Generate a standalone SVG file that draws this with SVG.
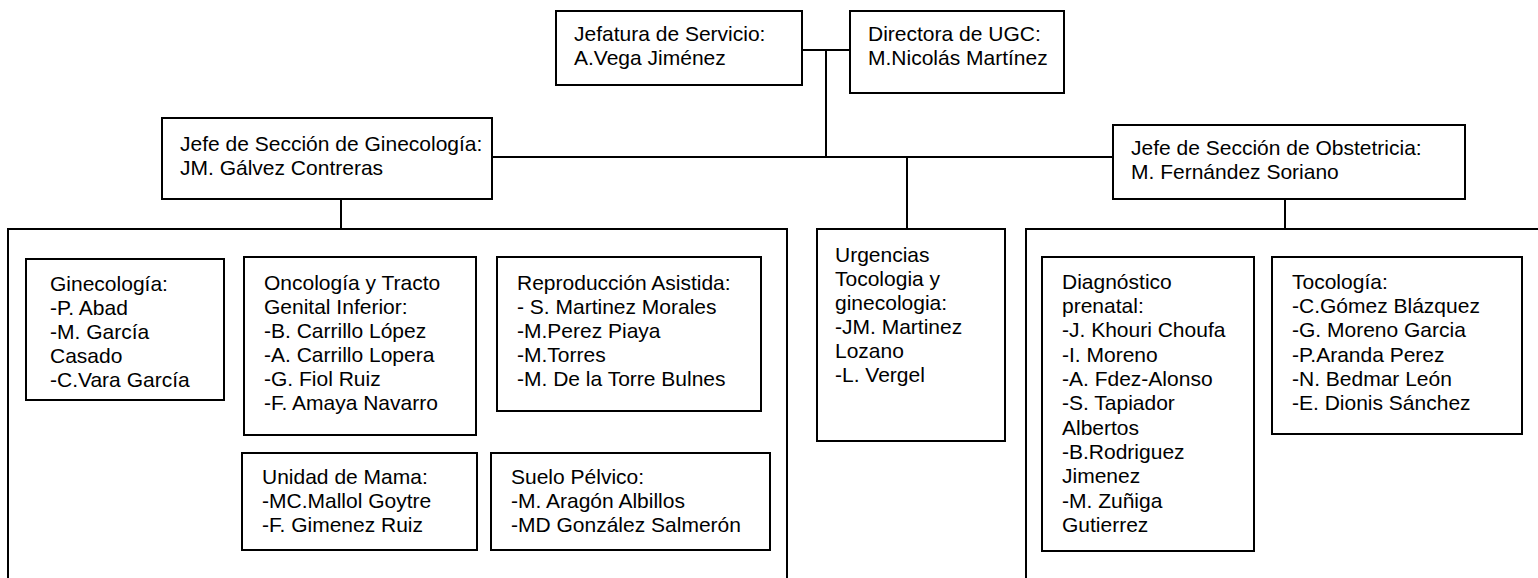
<svg xmlns="http://www.w3.org/2000/svg" width="1538" height="578" viewBox="0 0 1538 578">
<style>
rect{fill:#fff;stroke:#000;stroke-width:2}
rect.bg{fill:#fff;stroke:none}
rect.big{fill:none}
line{stroke:#000;stroke-width:2}
text{font-family:"Liberation Sans",Arial,sans-serif;font-size:21px;fill:#000}
</style>
<rect class="bg" x="0" y="0" width="1538" height="578"/>
<g id="connectors">
<line x1="802" y1="50" x2="850" y2="50"/>
<line x1="826" y1="50" x2="826" y2="157"/>
<line x1="492" y1="157" x2="1113" y2="157"/>
<line x1="341" y1="199" x2="341" y2="229"/>
<line x1="907" y1="157" x2="907" y2="229"/>
<line x1="1285" y1="199" x2="1285" y2="229"/>
</g>
<g id="jefatura">
<rect x="556" y="11" width="246" height="74"/>
<text x="574" y="41">Jefatura de Servicio:</text>
<text x="574" y="65">A.Vega Jiménez</text>
</g>
<g id="directora">
<rect x="850" y="11" width="214" height="82"/>
<text x="868" y="41">Directora de UGC:</text>
<text x="868" y="65">M.Nicolás Martínez</text>
</g>
<g id="jefe-ginecologia">
<rect x="162" y="118" width="330" height="81"/>
<text x="180" y="151">Jefe de Sección de Ginecología:</text>
<text x="180" y="175">JM. Gálvez Contreras</text>
</g>
<g id="jefe-obstetricia">
<rect x="1113" y="125" width="352" height="74"/>
<text x="1131" y="155">Jefe de Sección de Obstetricia:</text>
<text x="1131" y="179">M. Fernández Soriano</text>
</g>
<g id="seccion-ginecologia">
<rect class="big" x="8" y="229" width="779" height="360"/>
</g>
<g id="seccion-obstetricia">
<rect class="big" x="1026" y="229" width="520" height="360"/>
</g>
<g id="ginecologia">
<rect x="26" y="259" width="198" height="141"/>
<text x="50" y="291">Ginecología:</text>
<text x="50" y="315">-P. Abad</text>
<text x="50" y="339">-M. García</text>
<text x="50" y="363">Casado</text>
<text x="50" y="387">-C.Vara García</text>
</g>
<g id="oncologia">
<rect x="244" y="257" width="232" height="178"/>
<text x="264" y="290">Oncología y Tracto</text>
<text x="264" y="314">Genital Inferior:</text>
<text x="264" y="338">-B. Carrillo López</text>
<text x="264" y="362">-A. Carrillo Lopera</text>
<text x="264" y="386">-G. Fiol Ruiz</text>
<text x="264" y="410">-F. Amaya Navarro</text>
</g>
<g id="reproduccion">
<rect x="497" y="257" width="264" height="154"/>
<text x="517" y="290">Reproducción Asistida:</text>
<text x="517" y="314">- S. Martinez Morales</text>
<text x="517" y="338">-M.Perez Piaya</text>
<text x="517" y="362">-M.Torres</text>
<text x="517" y="386">-M. De la Torre Bulnes</text>
</g>
<g id="mama">
<rect x="242" y="453" width="235" height="97"/>
<text x="262" y="484">Unidad de Mama:</text>
<text x="262" y="508">-MC.Mallol Goytre</text>
<text x="262" y="532">-F. Gimenez Ruiz</text>
</g>
<g id="suelo-pelvico">
<rect x="491" y="453" width="279" height="97"/>
<text x="511" y="484">Suelo Pélvico:</text>
<text x="511" y="508">-M. Aragón Albillos</text>
<text x="511" y="532">-MD González Salmerón</text>
</g>
<g id="urgencias">
<rect x="817" y="229" width="188" height="212"/>
<text x="835" y="262">Urgencias</text>
<text x="835" y="286">Tocologia y</text>
<text x="835" y="310">ginecologia:</text>
<text x="835" y="334">-JM. Martinez</text>
<text x="835" y="358">Lozano</text>
<text x="835" y="382">-L. Vergel</text>
</g>
<g id="diagnostico">
<rect x="1042" y="257" width="212" height="294"/>
<text x="1062" y="289">Diagnóstico</text>
<text x="1062" y="313">prenatal:</text>
<text x="1062" y="337">-J. Khouri Choufa</text>
<text x="1062" y="362">-I. Moreno</text>
<text x="1062" y="386">-A. Fdez-Alonso</text>
<text x="1062" y="410">-S. Tapiador</text>
<text x="1062" y="435">Albertos</text>
<text x="1062" y="459">-B.Rodriguez</text>
<text x="1062" y="483">Jimenez</text>
<text x="1062" y="508">-M. Zuñiga</text>
<text x="1062" y="532">Gutierrez</text>
</g>
<g id="tocologia">
<rect x="1272" y="257" width="250" height="177"/>
<text x="1292" y="289">Tocología:</text>
<text x="1292" y="313">-C.Gómez Blázquez</text>
<text x="1292" y="337">-G. Moreno Garcia</text>
<text x="1292" y="362">-P.Aranda Perez</text>
<text x="1292" y="386">-N. Bedmar León</text>
<text x="1292" y="410">-E. Dionis Sánchez</text>
</g>
</svg>
